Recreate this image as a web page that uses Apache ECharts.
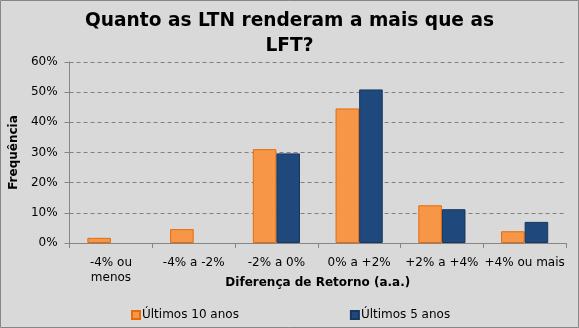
<!DOCTYPE html>
<html>
<head>
<meta charset="utf-8">
<script src="https://cdn.jsdelivr.net/npm/echarts@6/dist/echarts.min.js"></script>
<style>
  html, body { margin: 0; padding: 0; background: #d9d9d9; }
  #chart { width: 579px; height: 328px; }
</style>
</head>
<body>
<div id="chart"></div>
<script>
// Return-difference buckets (LTN minus LFT, per year)
var categories = ['-4% ou\nmenos', '-4% a -2%', '-2% a 0%', '0% a +2%', '+2% a +4%', '+4% ou mais'];
// Frequency of each bucket, in percent
var last10Years = [1.7, 4.6, 31.1, 44.6, 12.5, 3.9];
var last5Years = [0, 0, 29.7, 50.9, 11.2, 7.0];
var seriesNames = ['Últimos 10 anos', 'Últimos 5 anos'];
var yTicks = [0, 10, 20, 30, 40, 50, 60];

var font = 'DejaVu Sans';

// Empty buckets get no outline, so no flat line is drawn on the axis
function toItems(values) {
  return values.map(function (v) {
    return v === 0 ? { value: v, itemStyle: { borderWidth: 0 } } : v;
  });
}

var chart = echarts.init(document.getElementById('chart'), null, { renderer: 'canvas' });

chart.setOption({
  backgroundColor: '#d9d9d9',
  animation: false,
  title: {
    text: 'Quanto as LTN renderam a mais que as\nLFT?',
    left: 'center',
    top: 4,
    textStyle: {
      fontFamily: font,
      fontWeight: 'bold',
      fontSize: 18.6,
      lineHeight: 25,
      color: '#000'
    }
  },
  legend: {
    bottom: 2,
    left: 126,
    itemGap: 111,
    itemWidth: 8,
    itemHeight: 8,
    icon: 'rect',
    textStyle: { fontFamily: font, fontSize: 12, color: '#000', padding: [0, 0, 0, -3] },
    data: seriesNames
  },
  grid: { left: 64, right: 13, top: 62, bottom: 85 },
  xAxis: {
    type: 'category',
    data: categories,
    name: 'Diferença de Retorno (a.a.)',
    nameLocation: 'middle',
    nameGap: 34,
    nameMoveOverlap: false,
    nameTextStyle: { fontFamily: font, fontWeight: 'bold', fontSize: 12, color: '#000' },
    axisLine: { lineStyle: { color: '#868686', width: 1 } },
    axisTick: { show: true, length: 5, lineStyle: { color: '#868686' } },
    axisLabel: { fontFamily: font, fontSize: 12, color: '#000', margin: 12, lineHeight: 15, interval: 0 }
  },
  yAxis: {
    type: 'value',
    min: yTicks[0],
    max: yTicks[yTicks.length - 1],
    interval: 10,
    name: 'Frequência',
    nameLocation: 'middle',
    nameGap: 45,
    nameTextStyle: { fontFamily: font, fontWeight: 'bold', fontSize: 12, color: '#000' },
    axisLine: { show: true, lineStyle: { color: '#868686', width: 1 } },
    axisTick: { show: true, length: 5, lineStyle: { color: '#868686' } },
    axisLabel: { fontFamily: font, fontSize: 12, color: '#000', margin: 12, formatter: '{value}%' },
    splitLine: { lineStyle: { color: '#808080', type: [4, 3], width: 1 } }
  },
  series: [
    {
      name: seriesNames[0],
      type: 'bar',
      data: toItems(last10Years),
      barGap: '0%',
      barCategoryGap: '43%',
      itemStyle: { color: '#f79646', borderColor: '#e46c0a', borderWidth: 1 }
    },
    {
      name: seriesNames[1],
      type: 'bar',
      data: toItems(last5Years),
      itemStyle: { color: '#1f497d', borderColor: '#17365d', borderWidth: 1 }
    }
  ],
  graphic: [{
    type: 'rect',
    shape: { x: 0.5, y: 0.5, width: 578, height: 327 },
    style: { fill: 'none', stroke: '#868686', lineWidth: 1 },
    silent: true
  }]
});
</script>
</body>
</html>
